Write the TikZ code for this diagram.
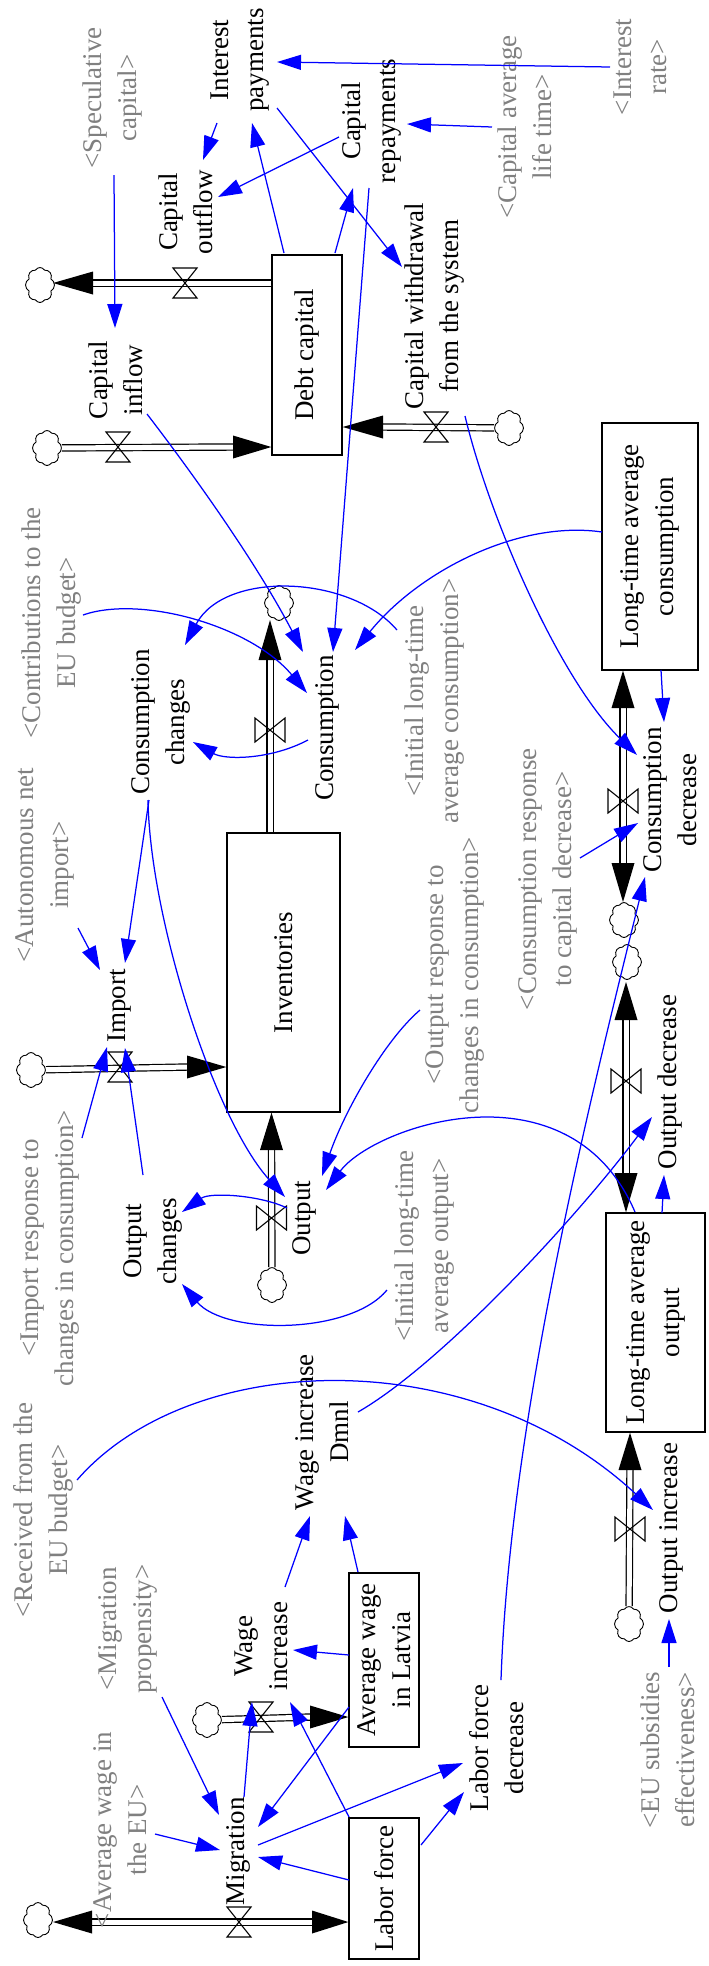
\documentclass[tikz,border=0pt]{standalone}
\usepackage{fontspec}
\setmainfont{Liberation Serif}
\usetikzlibrary{arrows.meta,shapes.symbols,calc}
\definecolor{shadowgray}{RGB}{128,128,128}
\definecolor{linkblue}{RGB}{0,0,255}
\begin{document}
\begin{tikzpicture}[x=1pt,y=-1pt,
  every node/.style={font=\fontsize{27}{35}\selectfont},
  lbl/.style={rotate=90, align=center, inner sep=0pt},
  shd/.style={lbl, text=shadowgray},
  stock/.style={draw, line width=1.3pt, rotate=90, align=center, inner sep=0pt, fill=white},
  conn/.style={draw=linkblue, line width=1.25pt, -{Triangle[length=24pt,width=15pt]}},
  pipe/.style={draw=black, line width=1.2pt, double=white, double distance=5pt},
  cloudn/.style={cloud, cloud puffs=8, cloud puff arc=120, cloud ignores aspect, draw, line width=0.9pt, minimum width=29pt, minimum height=35pt, inner sep=0pt},
  hvalve/.pic={\draw[line width=1.1pt] (-12,-15) -- (12,-15) -- (-12,15) -- (12,15) -- cycle;},
  vvalve/.pic={\draw[line width=1.1pt] (-15,-12) -- (-15,12) -- (15,-12) -- (15,12) -- cycle;}
]
\fill[white] (0,0) rectangle (709,1966);
\useasboundingbox (0,0) rectangle (709,1966);

% ---------- stocks ----------
\node[stock, minimum width=200pt, minimum height=70pt] (debt) at (307,355) {Debt capital};
\node[stock, minimum width=279pt, minimum height=113pt] (inv) at (283.5,972.5) {Inventories};
\node[stock, minimum width=247pt, minimum height=96pt] (ltac) at (650,546.5) {Long-time average\\consumption};
\node[stock, minimum width=219pt, minimum height=99pt] (ltao) at (655.5,1322.5) {Long-time average\\output};
\node[stock, minimum width=174pt, minimum height=70pt] (awl) at (384,1660) {Average wage\\in Latvia};
\node[stock, minimum width=141pt, minimum height=70pt] (lab) at (384,1888.5) {Labor force};

% ---------- clouds ----------
\node[cloudn] (c1) at (40,285) {};
\node[cloudn] (c2) at (47,448) {};
\node[cloudn] (c3) at (509,428) {};
\node[cloudn] (c4) at (279,603) {};
\node[cloudn] (c5) at (31,1070) {};
\node[cloudn] (c6) at (272,1285) {};
\node[cloudn] (c7) at (624,920) {};
\node[cloudn] (c8) at (627,962) {};
\node[cloudn] (c9) at (629,1624) {};
\node[cloudn] (c10) at (207,1720) {};
\node[cloudn] (c11) at (38,1920) {};

% ---------- flows (pipes) ----------
% capital outflow
\draw[pipe] (debt.north |- 0,283) -- (92,283);
\fill (53,283) -- (93,271.5) -- (93,294.5) -- cycle;
\pic at (185,283) {hvalve};
% capital inflow
\draw[pipe] (c2) -- (234,447);
\fill (debt.north |- 0,447) -- (233,435.5) -- (233,458.5) -- cycle;
\pic at (118,447) {hvalve};
% capital withdrawal
\draw[pipe] (c3) -- (382,427);
\fill (debt.south |- 0,427) -- (383,415.5) -- (383,438.5) -- cycle;
\pic at (436,427) {hvalve};
% consumption
\draw[pipe] (inv.east -| 270,0) -- (270,659);
\fill (270,620) -- (258.5,660) -- (281.5,660) -- cycle;
\pic at (270,730) {vvalve};
% import
\draw[pipe] (c5) -- (188,1067);
\fill (inv.north |- 0,1067) -- (187,1055.5) -- (187,1078.5) -- cycle;
\pic at (120,1067) {hvalve};
% output
\draw[pipe] (c6) -- (271.5,1149);
\fill (inv.west -| 271.5,0) -- (260,1150) -- (283,1150) -- cycle;
\pic at (271.5,1218) {vvalve};
% consumption decrease
\draw[pipe] (623,707) -- (623,864);
\fill (ltac.west -| 623,0) -- (611.5,708) -- (634.5,708) -- cycle;
\fill (623,902) -- (611.5,863) -- (634.5,863) -- cycle;
\pic at (623,801) {vvalve};
% output decrease
\draw[pipe] (626,1019) -- (626,1174);
\fill (626,982) -- (614.5,1020) -- (637.5,1020) -- cycle;
\fill (ltao.east -| 626,0) -- (614.5,1173) -- (637.5,1173) -- cycle;
\pic at (626,1081) {vvalve};
% output increase
\draw[pipe] (c9) -- (630,1469);
\fill (ltao.west -| 630,0) -- (618.5,1470) -- (641.5,1470) -- cycle;
\pic at (630,1529) {vvalve};
% wage increase
\draw[pipe] (c10) -- (311,1717);
\fill (awl.north |- 0,1717) -- (310,1705.5) -- (310,1728.5) -- cycle;
\pic at (261,1717) {hvalve};
% migration
\draw[pipe] (91,1922) -- (313,1922);
\fill (53,1922) -- (92,1910.5) -- (92,1933.5) -- cycle;
\fill (lab.north |- 0,1922) -- (312,1910.5) -- (312,1933.5) -- cycle;
\pic at (239,1922) {hvalve};

% ---------- variables ----------
\node[lbl] (intpay) at (240,60) {Interest\\payments};
\node[lbl] (capout) at (186,212) {Capital\\outflow};
\node[lbl] (caprep) at (372,121) {Capital\\repayments};
\node[lbl] (capwd) at (435,306) {Capital withdrawal\\from the system};
\node[lbl] (capin) at (116,380) {Capital\\inflow};
\node[lbl] (conch) at (161,722) {Consumption\\changes};
\node[lbl] (cons) at (327,728) {Consumption};
\node[lbl] (imp) at (120,1006) {Import};
\node[lbl] (outch) at (153,1241) {Output\\changes};
\node[lbl] (outp) at (304,1218) {Output};
\node[lbl] (consdec) at (670,800) {Consumption\\decrease};
\node[lbl] (outdec) at (670,1082) {Output decrease};
\node[lbl] (outinc) at (671,1528) {Output increase};
\node[lbl] (wagedmnl) at (322,1432) {Wage increase\\Dmnl};
\node[lbl] (wageinc) at (261,1646) {Wage\\increase};
\node[lbl] (migr) at (238,1851) {Migration};
\node[lbl] (lfdec) at (497,1748) {Labor force\\decrease};

% ---------- shadow variables ----------
\node[shd] (spec) at (113,98) {<Speculative\\capital>};
\node[shd] (irate) at (640,67) {<Interest\\rate>};
\node[shd] (calt) at (525,127) {<Capital average\\life time>};
\node[shd] (contr) at (52,623) {<Contributions to the\\EU budget>};
\node[shd] (autimp) at (45,865) {<Autonomous net\\import>};
\node[shd] (ilac) at (435,701) {<Initial long-time\\average consumption>};
\node[shd] (crcd) at (548,879) {<Consumption response\\to capital decrease>};
\node[shd] (orcc) at (455,975) {<Output response to\\changes in consumption>};
\node[shd] (ircc) at (50,1248) {<Import response to\\changes in consumption>};
\node[shd] (ilao) at (425,1246) {<Initial long-time\\average output>};
\node[shd] (recv) at (43,1510) {<Received from the\\EU budget>};
\node[shd] (migp) at (128,1629) {<Migration\\propensity>};
\node[shd] (awe) at (120,1830) {<Average wage in\\the EU>};
\node[shd] (eusub) at (668,1750) {<EU subsidies\\effectiveness>};

% ---------- connectors ----------
\draw[conn] ($(irate)+(-30,0)$) -- ($(intpay)+(37,2)$);
\draw[conn] ($(intpay)+(-23,63)$) -- ($(capout)+(17,-52)$);
\draw[conn] ($(caprep)+(-33,16)$) -- ($(capout)+(32,-15)$);
\draw[conn] ($(debt)+(-23,-102)$) -- ($(intpay)+(12,63)$);
\draw[conn] ($(debt)+(28,-102)$) -- ($(caprep)+(-19,67)$);
\draw[conn] ($(intpay)+(37,48)$) -- ($(capwd)+(-33,-39)$);
\draw[conn] ($(calt)+(-33,0)$) -- ($(caprep)+(35,3)$);
\draw[conn] ($(caprep)+(-3,67)$) -- ($(cons)+(6,-76)$);
\draw[conn] ($(spec)+(1,77)$) -- ($(capin)+(-1,-52)$);
\draw[conn] ($(capin)+(31,34)$) .. controls (190,470) and (255,560) .. ($(cons)+(-24,-76)$);
\draw[conn] ($(ilac)+(-38,-71)$) .. controls (350,575) and (225,570) .. ($(conch)+(24,-77)$);
\draw[conn] ($(ltac)+(-48,-14.5)$) .. controls (520,520) and (420,570) .. ($(cons)+(28,-78)$);
\draw[conn] ($(contr)+(31,-8)$) .. controls (140,595) and (250,625) .. ($(cons)+(-20,-35)$);
\draw[conn] ($(cons)+(-19,12)$) .. controls (270,760) and (225,760) .. ($(conch)+(32,20)$);
\draw[conn] ($(conch)+(-12,78)$) -- ($(imp)+(5,-43)$);
\draw[conn] ($(conch)+(-13,78)$) .. controls (150,920) and (215,1120) .. ($(outp)+(-19,-21)$);
\draw[conn] ($(autimp)+(33,63)$) -- ($(imp)+(-20,-36)$);
\draw[conn] ($(ircc)+(32,-110)$) -- ($(imp)+(-13,41)$);
\draw[conn] ($(outch)+(-10,-66)$) -- ($(imp)+(5,42)$);
\draw[conn] ($(outp)+(-17,-10)$) .. controls (260,1195) and (210,1192) .. ($(outch)+(29,-29)$);
\draw[conn] ($(orcc)+(-35,35)$) .. controls (385,1040) and (345,1110) .. ($(outp)+(18,-42)$);
\draw[conn] ($(ltao)+(-20.5,-110.5)$) .. controls (570,1060) and (375,1125) .. ($(outp)+(22,-28)$);
\draw[conn] ($(ilao)+(-38,44)$) .. controls (350,1335) and (225,1335) .. ($(outch)+(29,43)$);
\draw[conn] ($(recv)+(34,-30)$) .. controls (190,1350) and (470,1340) .. ($(outinc)+(-18,-18)$);
\draw[conn] ($(wagedmnl)+(36,-20)$) .. controls (440,1365) and (575,1220) .. ($(outdec)+(-18,35)$);
\draw[conn] ($(lfdec)+(4,-68)$) .. controls (510,1420) and (590,1100) .. ($(consdec)+(-25,77)$);
\draw[conn] ($(capwd)+(30,110)$) .. controls (490,520) and (560,680) .. ($(consdec)+(-33,-45)$);
\draw[conn] ($(ltac)+(11,123.5)$) -- ($(consdec)+(-6,-78)$);
\draw[conn] ($(crcd)+(32,-21)$) -- ($(consdec)+(-32,23)$);
\draw[conn] ($(ltao)+(6.5,-109.5)$) -- ($(outdec)+(-6,93)$);
\draw[conn] ($(eusub)+(1,-83)$) -- ($(outinc)+(-2,91)$);
\draw[conn] ($(wageinc)+(24,-59)$) -- ($(wagedmnl)+(-12,84)$);
\draw[conn] ($(awl)+(-26,-88)$) -- ($(wagedmnl)+(23,84)$);
\draw[conn] ($(awl)+(-35,-5)$) -- ($(wageinc)+(32,4)$);
\draw[conn] ($(awl)+(-35,47)$) -- ($(migr)+(20,-24)$);
\draw[conn] ($(lab)+(-35,-71.5)$) -- ($(wageinc)+(29,56)$);
\draw[conn] ($(migr)+(6,-54)$) -- ($(wageinc)+(-9,56)$);
\draw[conn] ($(migp)+(34,68)$) -- ($(migr)+(-19,-36)$);
\draw[conn] ($(awe)+(35,4)$) -- ($(migr)+(-18,-1)$);
\draw[conn] ($(lab)+(-35,-8.5)$) -- ($(migr)+(20,6)$);
\draw[conn] ($(migr)+(20,-6)$) -- ($(lfdec)+(-34,15)$);
\draw[conn] ($(lab)+(37,-43.5)$) -- ($(lfdec)+(-33,44)$);
\end{tikzpicture}
\end{document}
